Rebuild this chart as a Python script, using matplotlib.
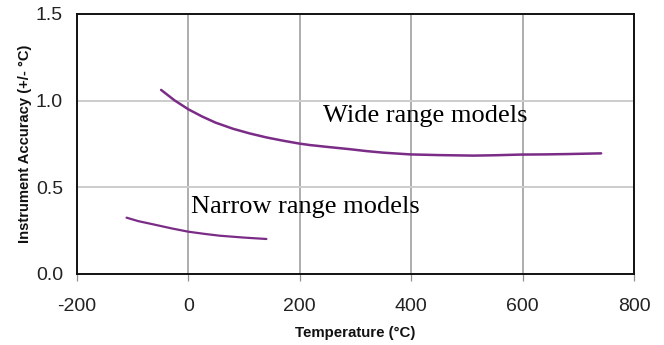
import matplotlib
matplotlib.use("Agg")
import matplotlib.pyplot as plt

# Data
wide_temp = [-49, -25, 0, 25, 49, 80, 110, 140, 170, 200, 218, 250, 290, 320, 350, 398, 450, 512, 550, 596, 640, 681, 741]
wide_acc = [1.062, 1.002, 0.950, 0.908, 0.873, 0.838, 0.811, 0.788, 0.769, 0.752, 0.744, 0.733, 0.720, 0.709, 0.700, 0.690, 0.686, 0.683, 0.685, 0.689, 0.690, 0.692, 0.696]
narrow_temp = [-111, -90, -64, -30, 0, 30, 56, 100, 140]
narrow_acc = [0.325, 0.305, 0.287, 0.263, 0.244, 0.231, 0.221, 0.210, 0.202]

x_ticks = [-200, 0, 200, 400, 600, 800]
x_tick_labels = ["-200", "0", "200", "400", "600", "800"]
y_ticks = [0.0, 0.5, 1.0, 1.5]
y_tick_labels = ["0.0", "0.5", "1.0", "1.5"]

line_color = "#7a2c86"

fig = plt.figure(figsize=(6.64, 3.45), dpi=100)
ax = fig.add_axes([77/664, 1 - 274/345, (634-77)/664, (274-14)/345])

ax.plot(wide_temp, wide_acc, color=line_color, lw=1.8, solid_capstyle="round", solid_joinstyle="round")
ax.plot(narrow_temp, narrow_acc, color=line_color, lw=1.6, solid_capstyle="round", solid_joinstyle="round")

ax.set_xlim(-200, 800)
ax.set_ylim(0, 1.5)
ax.set_xticks(x_ticks)
ax.set_xticklabels(x_tick_labels)
ax.set_yticks(y_ticks)
ax.set_yticklabels(y_tick_labels)
ax.xaxis.grid(True, color="#a0a0a0", lw=1.2)
ax.yaxis.grid(True, color="#cccccc", lw=1.4)
ax.set_axisbelow(True)
for s in ax.spines.values():
    s.set_color("#111111")
    s.set_linewidth(1.4)
ax.tick_params(axis="x", length=5, width=0.9, color="#909090", labelsize=14,
               labelcolor="#222222", pad=12)
ax.tick_params(axis="y", length=0, labelsize=14, labelcolor="#222222", pad=10)
for lab in ax.get_xticklabels() + ax.get_yticklabels():
    lab.set_family("Liberation Sans")

ax.set_xlabel("Temperature (°C)", fontsize=10.8, fontweight="bold", family="Liberation Sans",
              labelpad=8, color="#111111")
ax.set_ylabel("Instrument Accuracy (+/- °C)", fontsize=10.6, fontweight="bold", family="Liberation Sans",
              labelpad=3, color="#111111")

ax.text(241, 0.877, "Wide range models", fontsize=19, family="Liberation Serif", va="baseline", ha="left")
ax.text(5, 0.352, "Narrow range models", fontsize=19, family="Liberation Serif", va="baseline", ha="left")

fig.savefig("out.png", dpi=100)
